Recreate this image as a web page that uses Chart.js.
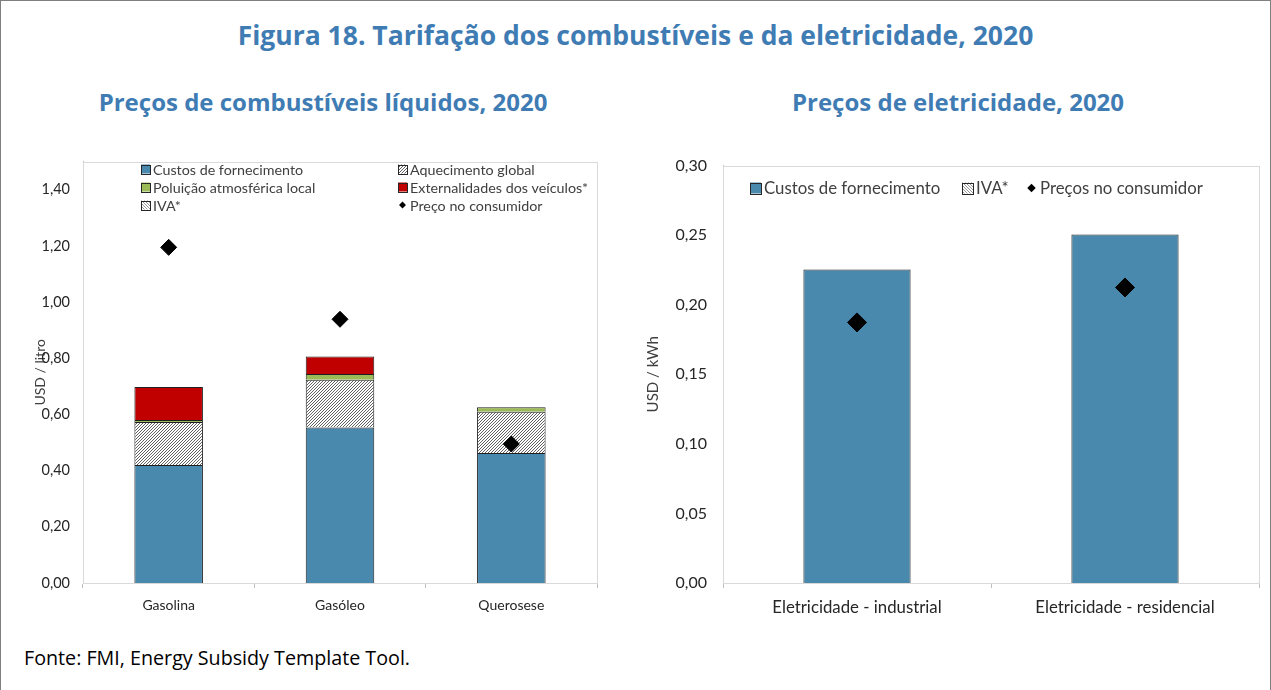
<!DOCTYPE html>
<html>
<head>
<meta charset="utf-8">
<script src="https://cdn.jsdelivr.net/npm/chart.js@4.4.1/dist/chart.umd.min.js"></script>
<style>
  body { margin: 0; background: #fff; }
  #fig {
    position: relative; width: 1271px; height: 690px; box-sizing: border-box;
    border: 1px solid #7f7f7f; border-bottom: none; overflow: hidden;
    font-family: 'Open Sans', sans-serif;
  }
  .titulo { position: absolute; left: 0; width: 1269px; top: 16px; text-align: center;
    font-size: 26.5px; font-weight: bold; color: #3f7cb4; }
  .sub { position: absolute; top: 84px; font-size: 24px; font-weight: bold; color: #3f7cb4; text-align: center; }
  .fonte { position: absolute; left: 23px; top: 643px; font-size: 19.7px; color: #000; }
  canvas { position: absolute; }
</style>
</head>
<body>
<div id="fig">
  <div class="titulo">Figura 18. Tarifação dos combustíveis e da eletricidade, 2020</div>
  <div class="sub" style="left:40px;width:564px;">Preços de combustíveis líquidos, 2020</div>
  <div class="sub" style="left:660px;width:594px;">Preços de eletricidade, 2020</div>
  <canvas id="myChartCanvas1" width="620" height="500" style="left:-1px;top:139px;"></canvas>
  <canvas id="myChartCanvas2" width="651" height="500" style="left:619px;top:139px;"></canvas>
  <div class="fonte">Fonte: FMI, Energy Subsidy Template Tool.</div>
</div>
<script>
// combustiveis liquidos (USD / litro)
const combCategorias = ['Gasolina', 'Gasóleo', 'Querosese'];
const combCustos = [0.42, 0.554, 0.463];
const combAquecimento = [0.153, 0.17, 0.147];
const combPoluicao = [0.007, 0.02, 0.016];
const combExternalidades = [0.118, 0.062, 0];
const combIva = [0, 0, 0];
const combPreco = [1.195, 0.939, 0.495];
const combTicks = [0, 0.2, 0.4, 0.6, 0.8, 1.0, 1.2, 1.4];

// eletricidade (USD / kWh)
const eletCategorias = ['Eletricidade - industrial', 'Eletricidade - residencial'];
const eletCustos = [0.2254, 0.2505];
const eletIva = [0, 0];
const eletPreco = [0.1873, 0.2124];
const eletTicks = [0, 0.05, 0.10, 0.15, 0.20, 0.25, 0.30];

Chart.defaults.font.family = 'Lato';
Chart.defaults.color = '#262626';

const AZUL = '#4a89ae';
const VERMELHO = '#c00000';
const VERDE = '#9bbb59';

function hachura(cor, inverter) {
    const c = document.createElement('canvas');
    c.width = 3; c.height = 3;
    const g = c.getContext('2d');
    g.fillStyle = '#fff';
    g.fillRect(0, 0, 3, 3);
    g.strokeStyle = cor;
    g.lineWidth = 0.8;
    g.beginPath();
    if (!inverter) {
        g.moveTo(-1, 4); g.lineTo(4, -1);
        g.moveTo(-1, 1); g.lineTo(1, -1);
        g.moveTo(2, 4); g.lineTo(4, 2);
    } else {
        g.moveTo(-1, -1); g.lineTo(4, 4);
        g.moveTo(2, -1); g.lineTo(4, 1);
        g.moveTo(-1, 2); g.lineTo(1, 4);
    }
    g.stroke();
    return g.createPattern(c, 'repeat');
}

const hachAquecimento = hachura('#3a3a3a', false);
const hachIva = hachura('#7f7f7f', true);

// legenda desenhada dentro da area do grafico
const legendaFixa = {
    id: 'legendaFixa',
    afterDraw(chart, args, opts) {
        const ctx = chart.ctx;
        ctx.save();
        ctx.font = `${opts.fontSize}px Lato`;
        ctx.textBaseline = 'middle';
        chart.data.datasets.forEach((ds, i) => {
            const p = opts.posicoes[i];
            if (!p) return;
            const s = opts.caixa;
            if (ds.type === 'line') {
                const r = s / 2.6;
                const cx = p.x + s / 2;
                ctx.fillStyle = '#000';
                ctx.beginPath();
                ctx.moveTo(cx, p.y - r); ctx.lineTo(cx + r, p.y);
                ctx.lineTo(cx, p.y + r); ctx.lineTo(cx - r, p.y);
                ctx.closePath();
                ctx.fill();
            } else {
                ctx.fillStyle = ds.backgroundColor;
                ctx.fillRect(p.x, p.y - s / 2, s, s);
                ctx.strokeStyle = '#262626';
                ctx.lineWidth = 1;
                ctx.strokeRect(Math.round(p.x) + 0.5, Math.round(p.y - s / 2) + 0.5, s, s);
            }
            ctx.fillStyle = '#404040';
            ctx.fillText(ds.label, p.x + s + 3, p.y + 1);
        });
        ctx.restore();
    }
};

// moldura em volta da area do grafico
const moldura = {
    id: 'moldura',
    beforeDatasetsDraw(chart) {
        const a = chart.chartArea;
        const ctx = chart.ctx;
        ctx.save();
        ctx.strokeStyle = '#d9d9d9';
        ctx.lineWidth = 1;
        ctx.strokeRect(Math.round(a.left) + 0.5, Math.round(a.top) + 0.5,
            Math.round(a.right - a.left), Math.round(a.bottom - a.top));
        ctx.restore();
    }
};

function rotulo(v, casas) {
    return v.toFixed(casas).replace('.', ',');
}

function graphic1(idGrafico) {
    const dados = {
        labels: combCategorias,
        datasets: [
            { label: 'Custos de fornecimento', data: combCustos, backgroundColor: AZUL },
            { label: 'Aquecimento global', data: combAquecimento, backgroundColor: hachAquecimento },
            { label: 'Poluição atmosférica local', data: combPoluicao, backgroundColor: VERDE },
            { label: 'Externalidades dos veículos*', data: combExternalidades, backgroundColor: VERMELHO },
            { label: 'IVA*', data: combIva, backgroundColor: hachIva },
            {
                type: 'line', label: 'Preço no consumidor', data: combPreco, stack: 'preco', order: -1,
                showLine: false, pointStyle: 'rectRot', pointRadius: 8,
                backgroundColor: '#000', borderColor: '#000'
            }
        ]
    };
    dados.datasets.forEach(ds => {
        if (ds.type !== 'line') {
            ds.borderColor = '#1f1f1f';
            ds.borderWidth = 1;
            ds.barPercentage = 0.4;
            ds.categoryPercentage = 1.0;
        }
    });

    const config = {
        type: 'bar',
        data: dados,
        plugins: [moldura, legendaFixa],
        options: {
            responsive: false,
            animation: false,
            layout: { padding: { top: 20, right: 23, bottom: 17, left: 0 } },
            plugins: {
                legend: { display: false },
                tooltip: { enabled: false },
                legendaFixa: {
                    fontSize: 14.3, caixa: 9,
                    posicoes: [
                        { x: 141, y: 29 }, { x: 398, y: 29 },
                        { x: 141, y: 47 }, { x: 398, y: 47 },
                        { x: 141, y: 65 }, { x: 398, y: 65 }
                    ]
                }
            },
            scales: {
                x: {
                    stacked: true,
                    grid: { display: true, drawOnChartArea: false, offset: true, tickLength: 5, color: '#bfbfbf' },
                    border: { color: '#bfbfbf' },
                    ticks: { font: { size: 14 }, padding: 9, maxRotation: 0, autoSkip: false },
                    afterFit(s) { s.height = 40; }
                },
                y: {
                    stacked: true,
                    min: 0,
                    max: 1.5,
                    afterBuildTicks(s) { s.ticks = combTicks.map(v => ({ value: v })); },
                    grid: { display: false, drawTicks: false },
                    border: { display: true, color: '#bfbfbf' },
                    ticks: { font: { size: 14.5 }, padding: 13, callback: v => rotulo(v, 2) },
                    title: {
                        display: true, text: 'USD / litro', color: '#404040',
                        font: { size: 14 }, padding: { top: 32, bottom: 0 }
                    },
                    afterFit(s) { s.width = 83; }
                }
            }
        }
    };

    new Chart(document.getElementById(`myChartCanvas${idGrafico}`), config);
}

function graphic2(idGrafico) {
    const dados = {
        labels: eletCategorias,
        datasets: [
            { label: 'Custos de fornecimento', data: eletCustos, backgroundColor: AZUL },
            { label: 'IVA*', data: eletIva, backgroundColor: hachIva },
            {
                type: 'line', label: 'Preços no consumidor', data: eletPreco, stack: 'preco', order: -1,
                showLine: false, pointStyle: 'rectRot', pointRadius: 9.5,
                backgroundColor: '#000', borderColor: '#000'
            }
        ]
    };
    dados.datasets.forEach(ds => {
        if (ds.type !== 'line') {
            ds.borderColor = '#1f1f1f';
            ds.borderWidth = 1;
            ds.barPercentage = 0.4;
            ds.categoryPercentage = 1.0;
        }
    });

    const config = {
        type: 'bar',
        data: dados,
        plugins: [moldura, legendaFixa],
        options: {
            responsive: false,
            animation: false,
            layout: { padding: { top: 25, right: 12, bottom: 17, left: 0 } },
            plugins: {
                legend: { display: false },
                tooltip: { enabled: false },
                legendaFixa: {
                    fontSize: 16.8, caixa: 11,
                    posicoes: [{ x: 130, y: 48 }, { x: 342, y: 48 }, { x: 406, y: 48 }]
                }
            },
            scales: {
                x: {
                    stacked: true,
                    grid: { display: true, drawOnChartArea: false, offset: true, tickLength: 5, color: '#bfbfbf' },
                    border: { color: '#bfbfbf' },
                    ticks: { font: { size: 16.8 }, padding: 10, maxRotation: 0, autoSkip: false },
                    afterFit(s) { s.height = 40; }
                },
                y: {
                    stacked: true,
                    min: 0,
                    max: 0.30,
                    afterBuildTicks(s) { s.ticks = eletTicks.map(v => ({ value: v })); },
                    grid: { display: false, drawTicks: false },
                    border: { display: true, color: '#bfbfbf' },
                    ticks: { font: { size: 16 }, padding: 16, callback: v => rotulo(v, 2) },
                    title: {
                        display: true, text: 'USD / kWh', color: '#404040',
                        font: { size: 15 }, padding: { top: 24, bottom: 0 }
                    },
                    afterFit(s) { s.width = 103; }
                }
            }
        }
    };

    new Chart(document.getElementById(`myChartCanvas${idGrafico}`), config);
}

graphic1(1);
graphic2(2);
</script>
</body>
</html>
